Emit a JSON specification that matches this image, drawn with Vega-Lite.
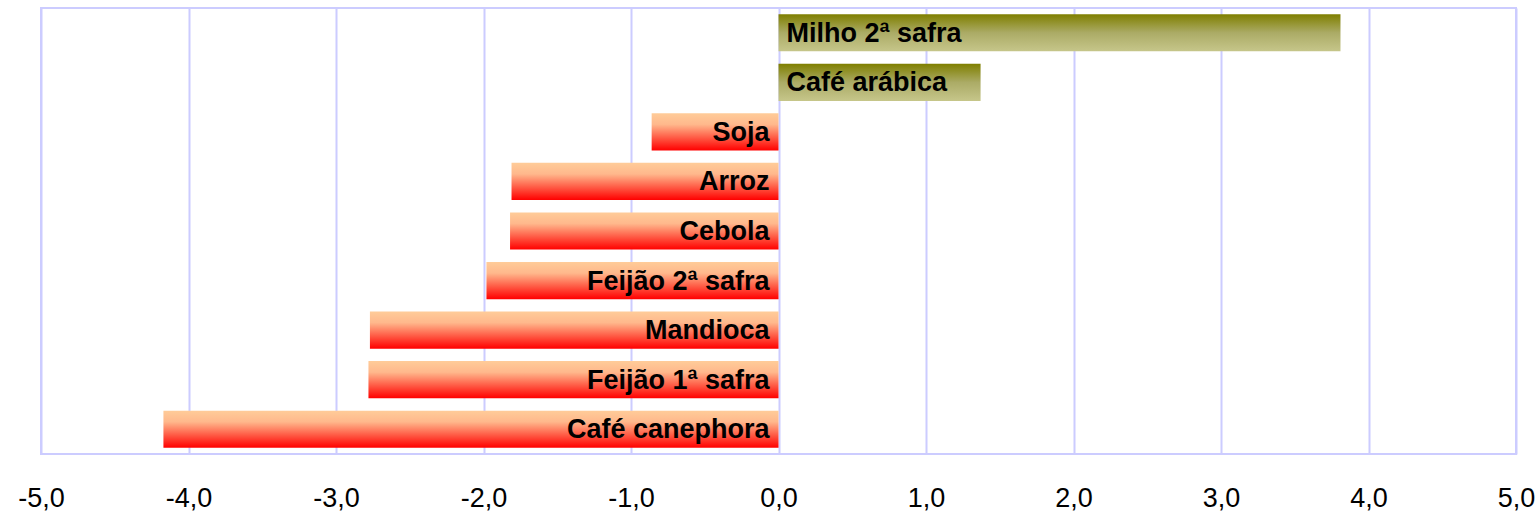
{
  "$schema": "https://vega.github.io/schema/vega-lite/v6.json",
  "width": 1475,
  "height": 446,
  "autosize": {"type": "none"},
  "padding": {"left": 41, "top": 8, "right": 19, "bottom": 59},
  "background": "white",
  "config": {
    "view": {"stroke": "#CCCCFF", "strokeWidth": 2},
    "font": "Liberation Sans"
  },
  "data": {
    "values": [
      {"cultura": "Milho 2ª safra", "valor": 3.81},
      {"cultura": "Café arábica", "valor": 1.37},
      {"cultura": "Soja", "valor": -0.86},
      {"cultura": "Arroz", "valor": -1.81},
      {"cultura": "Cebola", "valor": -1.82},
      {"cultura": "Feijão 2ª safra", "valor": -1.98},
      {"cultura": "Mandioca", "valor": -2.77},
      {"cultura": "Feijão 1ª safra", "valor": -2.78},
      {"cultura": "Café canephora", "valor": -4.17}
    ]
  },
  "encoding": {
    "y": {
      "field": "cultura",
      "type": "nominal",
      "sort": null,
      "axis": null,
      "scale": {"paddingInner": 0.25, "paddingOuter": 0.125}
    }
  },
  "layer": [
    {
      "mark": {"type": "rule", "opacity": 0},
      "encoding": {
        "x": {
          "field": "valor",
          "type": "quantitative",
          "scale": {"domain": [-5, 5], "nice": false},
          "axis": {
            "values": [-5, -4, -3, -2, -1, 0, 1, 2, 3, 4, 5],
            "title": null,
            "domain": false,
            "ticks": false,
            "labelPadding": 31,
            "labelFontSize": 27,
            "labelColor": "black",
            "labelFont": "Liberation Sans",
            "labelFlush": false,
            "labelOverlap": false,
            "labelBound": false,
            "labelExpr": "replace(replace(format(datum.value, '.1f'), '.', ','), '\u2212', '-')",
            "gridColor": "#CCCCFF",
            "gridWidth": 2,
            "gridOpacity": 1
          }
        }
      }
    },
    {
      "transform": [{"filter": "datum.valor < 0"}],
      "mark": {
        "type": "bar",
        "color": {
          "gradient": "linear",
          "x1": 0, "y1": 0, "x2": 0, "y2": 1,
          "stops": [
            {"offset": 0, "color": "#FFCC99"},
            {"offset": 0.3, "color": "#FFB88C"},
            {"offset": 1, "color": "#FF0000"}
          ]
        }
      },
      "encoding": {
        "x": {"field": "valor", "type": "quantitative"}
      }
    },
    {
      "transform": [{"filter": "datum.valor > 0"}],
      "mark": {
        "type": "bar",
        "color": {
          "gradient": "linear",
          "x1": 0, "y1": 0, "x2": 0, "y2": 1,
          "stops": [
            {"offset": 0, "color": "#7F7F00"},
            {"offset": 0.5, "color": "#ABAB66"},
            {"offset": 1, "color": "#C6C68A"}
          ]
        }
      },
      "encoding": {
        "x": {"field": "valor", "type": "quantitative"}
      }
    },
    {
      "transform": [{"filter": "datum.valor < 0"}],
      "mark": {"type": "text", "align": "right", "baseline": "middle", "dx": -9, "dy": 1, "fontSize": 27, "fontWeight": "bold", "color": "black"},
      "encoding": {
        "x": {"datum": 0, "type": "quantitative"},
        "text": {"field": "cultura"}
      }
    },
    {
      "transform": [{"filter": "datum.valor > 0"}],
      "mark": {"type": "text", "align": "left", "baseline": "middle", "dx": 8, "dy": 1, "fontSize": 27, "fontWeight": "bold", "color": "black"},
      "encoding": {
        "x": {"datum": 0, "type": "quantitative"},
        "text": {"field": "cultura"}
      }
    }
  ]
}
